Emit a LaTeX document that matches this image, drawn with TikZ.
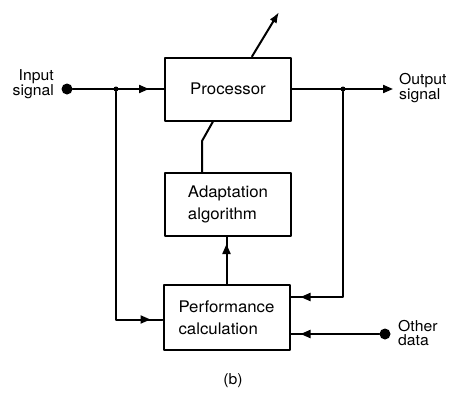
\documentclass[tikz,border=0pt]{standalone}
\usepackage{fontspec}
\setmainfont{TeX Gyre Heros}
\usetikzlibrary{arrows.meta,decorations.markings}
\tikzset{
  blockbox/.style={draw,line width=2pt,minimum width=126pt,minimum height=63pt,
    align=left,font=\fontsize{16}{22}\selectfont\addfontfeature{FakeStretch=1.05}},
  wire/.style={line width=2pt},
  midtip/.style={postaction={decorate},decoration={markings,
    mark=at position #1 with {\arrow{Triangle[length=10pt,width=8pt]}}}},
  lbl/.style={font=\fontsize{15}{14}\selectfont\addfontfeature{FakeStretch=1.05},inner sep=0pt},
  dotnode/.style={circle,fill,inner sep=0pt,minimum size=11pt},
  junc/.style={circle,fill,inner sep=0pt,minimum size=5pt}
}
\begin{document}
\begin{tikzpicture}[x=1pt,y=-1pt,line cap=round,line join=round]
  \useasboundingbox (0,0) rectangle (461,394);
  \node[blockbox] (proc) at (228,89) {Processor};
  \node[blockbox] (adapt) at (228,204.5) {Adaptation\\algorithm};
  \node[blockbox,minimum height=65pt] (perf) at (226.5,317.5) {Performance\\calculation};
  \node[dotnode] (in) at (67,89) {};
  \node[dotnode] (other) at (385,334) {};
  \node[junc] (jl) at (116,89) {};
  \node[junc] (jr) at (343,89) {};
  \coordinate (out) at (393,89);
  \coordinate (tune) at (279,12);
  \node[lbl,align=right,anchor=east] at (54,84) {Input\\signal};
  \node[lbl,align=left,anchor=west] at (399,88) {Output\\signal};
  \node[lbl,align=left,anchor=west] at (398,333) {Other\\data};
  \node[lbl] at (233,381) {(b)};
  % signal path
  \draw[wire,midtip=-15pt] (in) -- (proc);
  \draw[wire,-{Triangle[length=10pt,width=8pt]}] (proc) -- (out);
  \draw[wire,-{Latex[length=11pt,width=8pt]}] ([xshift=-40pt]proc.north east) -- (tune);
  % adaptation loop
  \draw[wire] ([xshift=-26pt]adapt.north) -- ++(0,-31) -- ([xshift=-15pt]proc.south);
  \draw[wire,midtip=-7pt] (perf.north) -- (adapt.south -| perf.north);
  \draw[wire,midtip=-12pt] (jl) |- ([yshift=-2pt]perf.west);
  \draw[wire,midtip=-10pt] (jr) |- (perf.east |- 0,297);
  \draw[wire,midtip=-10pt] (other) -- (perf.east |- other);
\end{tikzpicture}
\end{document}
